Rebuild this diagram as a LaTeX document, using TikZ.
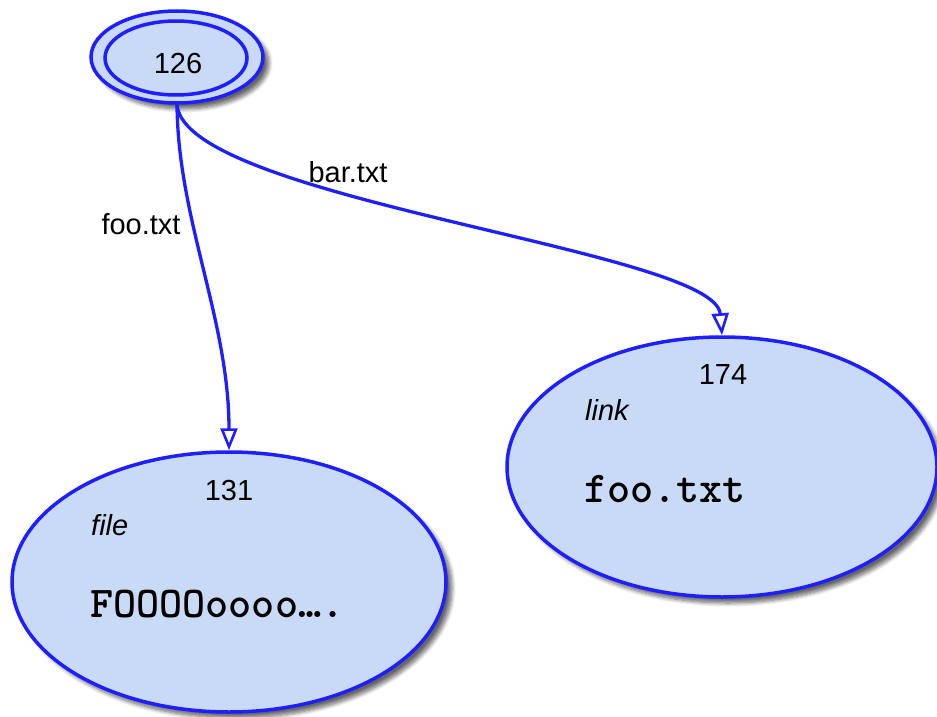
\documentclass[tikz,border=0pt]{standalone}
\usepackage{fontspec}
\setmainfont{Liberation Sans}
\newfontfamily\monobold{Latin Modern Mono Light}[BoldFont={LMMonoLt10-Bold}]
\usetikzlibrary{arrows.meta,shapes.geometric,shadows.blur}
\definecolor{nodefill}{RGB}{200,218,246}
\definecolor{edgeblue}{RGB}{30,30,255}
\tikzset{
  inode/.style={ellipse, draw=edgeblue, fill=nodefill, line width=3.5pt, inner sep=0pt,
    blur shadow={shadow xshift=6pt, shadow yshift=-6pt, shadow blur steps=8,
      shadow blur radius=4pt, shadow opacity=60}},
  innerring/.style={ellipse, draw=edgeblue, fill=nodefill, line width=3.5pt, inner sep=0pt},
  lbl/.style={font=\fontsize{29}{34}\selectfont, inner sep=0pt},
  kind/.style={font=\fontsize{29}{34}\selectfont\itshape, inner sep=0pt, anchor=west},
  content/.style={font=\fontsize{44}{50}\selectfont\monobold\bfseries, inner sep=0pt, anchor=west},
  link/.style={draw=edgeblue, line width=3.3pt,
    -{Triangle[length=22pt, width=17pt, fill=white, line width=2.6pt]}},
}
\begin{document}
\begin{tikzpicture}[x=1pt, y=-1pt]
  \useasboundingbox (0,0) rectangle (937,717);
  % directory inode 126 (double ring)
  \node[inode, minimum width=172pt, minimum height=92pt] (o126) at (177,57) {};
  \node[innerring, minimum width=142pt, minimum height=74pt] (n126) at (176,58) {};
  \node[lbl] (t126) at (178,64) {126};
  % file inode 131
  \node[inode, minimum width=434pt, minimum height=260pt] (n131) at (229,582) {};
  \node[lbl] (t131) at (229,491) {131};
  \node[kind] (k131) at (91,525) {file};
  \node[content] (c131) at (90,604) {FOOOOoooo….};
  % symlink inode 174
  \node[inode, minimum width=430pt, minimum height=260pt] (n174) at (722,467) {};
  \node[lbl] (t174) at (723,375) {174};
  \node[kind] (k174) at (585,410) {link};
  \node[content] (c174) at (584,489) {foo.txt};
  % directory entries
  \draw[link] (o126.south) .. controls (178,220) and (229,320) .. (n131.north);
  \draw[link] (o126.south) .. controls (185,200) and (715,250) .. (n174.north);
  \node[lbl] (e1) at (141,224) {foo.txt};
  \node[lbl] (e2) at (348,172) {bar.txt};
\end{tikzpicture}
\end{document}
